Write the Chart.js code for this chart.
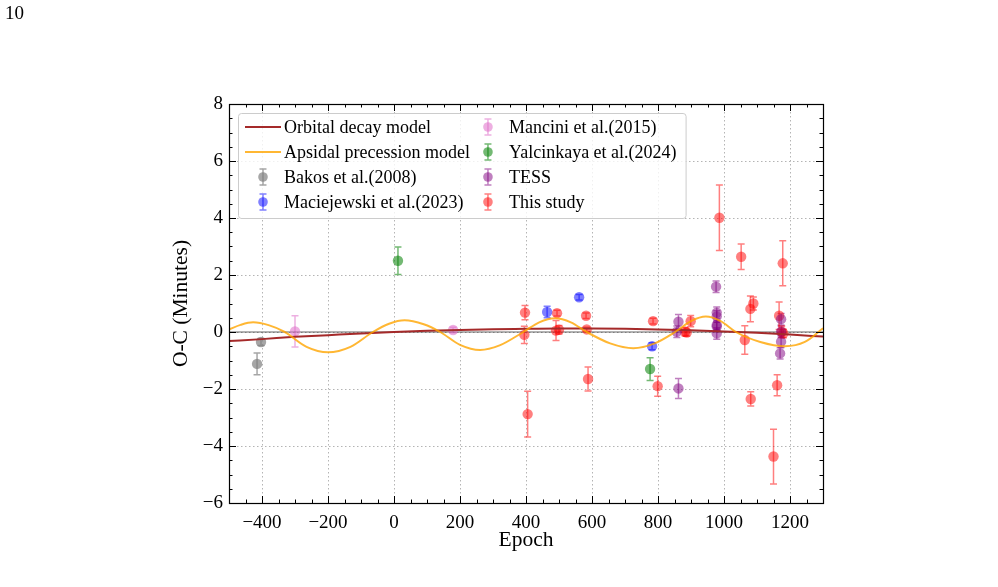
<!DOCTYPE html>
<html><head><meta charset="utf-8">
<script src="https://cdn.jsdelivr.net/npm/chart.js@4.4.0/dist/chart.umd.min.js"></script>
<style>
html,body{margin:0;padding:0;background:#fff;}
#wrap{position:relative;width:998px;height:587px;overflow:hidden;}
#pg{position:absolute;left:5px;top:2px;font:19px "Liberation Serif",serif;color:#000;}
canvas{position:absolute;left:0;top:0;}
</style></head><body>
<div id="wrap"><canvas id="c" width="998" height="587"></canvas><div id="pg">10</div></div>
<script>
// ---- axis ticks ----
const xTicks = [-400, -200, 0, 200, 400, 600, 800, 1000, 1200];
const yTicks = [-6, -4, -2, 0, 2, 4, 6, 8];

// ---- model curves ----
const decayE = [-500, -400, -300, -200, -100, 0, 100, 200, 300, 400, 500, 600, 700, 800, 900, 1000, 1100, 1200, 1300];
const decayY = [-0.32, -0.25, -0.17, -0.11, -0.05, 0.0, 0.04, 0.07, 0.10, 0.11, 0.12, 0.12, 0.11, 0.09, 0.06, 0.02, -0.03, -0.09, -0.16];

const apsE = [-500, -465, -427, -380, -331, -265, -200, -132, -64, -15, 32, 90, 140, 200, 261, 320, 392, 440, 488, 536, 584, 655, 725, 790, 852, 900, 945, 990, 1036, 1110, 1185, 1245, 1300];
const apsY = [0.09, 0.25, 0.34, 0.24, 0.0, -0.52, -0.71, -0.52, 0.0, 0.29, 0.41, 0.27, 0.0, -0.45, -0.63, -0.47, 0.0, 0.34, 0.48, 0.34, 0.0, -0.40, -0.57, -0.40, 0.0, 0.38, 0.54, 0.38, 0.0, -0.35, -0.50, -0.35, 0.13];

const zeroE = [-500, 1300];
const zeroY = [0, 0];

// ---- observations ----
const bakosE = [-415, -403];
const bakosY = [-1.12, -0.35];
const bakosErr = [0.38, 0.12];

const maciE = [464, 561, 782];
const maciY = [0.70, 1.22, -0.50];
const maciErr = [0.20, 0.10, 0.12];

const manciniE = [-300, 179];
const manciniY = [0.02, 0.07];
const manciniErr = [0.55, 0.10];

const yalE = [12, 776];
const yalY = [2.50, -1.30];
const yalErr = [0.48, 0.40];

const tessE = [862, 857, 862, 976, 978, 978, 978, 978, 978, 1173, 1173, 1173, 1170];
const tessY = [0.36, 0.01, -1.98, 1.59, 0.68, 0.55, 0.25, 0.19, -0.05, 0.45, 0.01, -0.34, -0.75];
const tessErr = [0.25, 0.20, 0.35, 0.20, 0.20, 0.20, 0.15, 0.15, 0.20, 0.20, 0.20, 0.20, 0.20];

const studyE = [397, 395, 405, 494, 491, 500, 582, 584, 588, 785, 799, 882, 887, 899, 986, 1052, 1063, 1080, 1089, 1081, 1150, 1161, 1167, 1178, 1175, 1180];
const studyY = [0.68, -0.10, -2.88, 0.66, 0.05, 0.08, 0.57, 0.09, -1.65, 0.38, -1.90, 0.01, -0.02, 0.38, 4.01, 2.64, -0.28, 0.81, 1.00, -2.35, -4.37, -1.87, 0.57, 2.41, 0.01, -0.05];
const studyErr = [0.25, 0.30, 0.80, 0.10, 0.35, 0.15, 0.10, 0.08, 0.42, 0.10, 0.35, 0.15, 0.12, 0.20, 1.15, 0.45, 0.50, 0.45, 0.23, 0.25, 0.96, 0.37, 0.48, 0.79, 0.20, 0.15];

// ---- styles ----
const FONT = '"Liberation Serif", "DejaVu Serif", serif';
const C_DECAY = '#a52a2a';
const C_APS = 'rgba(255,165,0,0.8)';
const C_GRAY = 'rgba(128,128,128,0.7)';
const C_BLUE = 'rgba(0,0,255,0.5)';
const C_PINK = 'rgba(222,110,200,0.55)';
const C_GREEN = 'rgba(0,128,0,0.55)';
const C_PURPLE = 'rgba(128,0,128,0.5)';
const C_RED = 'rgba(255,0,0,0.5)';

const pts = (xs, ys) => xs.map((x, i) => ({x: x, y: ys[i]}));

function obs(label, xs, ys, errs, color) {
  return {label, data: pts(xs, ys), errors: errs, backgroundColor: color, borderColor: color,
    pointRadius: 5.2, pointHoverRadius: 5.2, borderWidth: 0, showLine: false, order: 5, isObs: true};
}

const datasets = [
  {label: 'zero', data: pts(zeroE, zeroY), showLine: true, pointRadius: 0, borderColor: 'rgba(0,0,0,0.6)', borderWidth: 1.2, order: 9},
  obs('Bakos et al.(2008)', bakosE, bakosY, bakosErr, C_GRAY),
  obs('Maciejewski et al.(2023)', maciE, maciY, maciErr, C_BLUE),
  obs('Mancini et al.(2015)', manciniE, manciniY, manciniErr, C_PINK),
  obs('Yalcinkaya et al.(2024)', yalE, yalY, yalErr, C_GREEN),
  obs('TESS', tessE, tessY, tessErr, C_PURPLE),
  obs('This study', studyE, studyY, studyErr, C_RED),
  {label: 'Orbital decay model', data: pts(decayE, decayY), showLine: true, pointRadius: 0, borderColor: C_DECAY, borderWidth: 2, cubicInterpolationMode: 'monotone', order: 2},
  {label: 'Apsidal precession model', data: pts(apsE, apsY), showLine: true, pointRadius: 0, borderColor: C_APS, borderWidth: 2, cubicInterpolationMode: 'monotone', order: 1},
];

const legendCols = [
  [{t: 'line', c: C_DECAY, label: 'Orbital decay model'},
   {t: 'line', c: C_APS, label: 'Apsidal precession model'},
   {t: 'err', c: C_GRAY, label: 'Bakos et al.(2008)'},
   {t: 'err', c: C_BLUE, label: 'Maciejewski et al.(2023)'}],
  [{t: 'err', c: C_PINK, label: 'Mancini et al.(2015)'},
   {t: 'err', c: C_GREEN, label: 'Yalcinkaya et al.(2024)'},
   {t: 'err', c: C_PURPLE, label: 'TESS'},
   {t: 'err', c: C_RED, label: 'This study'}]
];

function drawErrMarker(ctx, x, y, c, half, cap, r) {
  ctx.strokeStyle = c; ctx.lineWidth = 1.5;
  ctx.beginPath(); ctx.moveTo(x, y - half); ctx.lineTo(x, y + half);
  ctx.moveTo(x - cap, y - half); ctx.lineTo(x + cap, y - half);
  ctx.moveTo(x - cap, y + half); ctx.lineTo(x + cap, y + half);
  ctx.stroke();
  ctx.fillStyle = c; ctx.beginPath(); ctx.arc(x, y, r, 0, Math.PI * 2); ctx.fill();
}

const deco = {
  id: 'deco',
  beforeDatasetsDraw(chart) {
    const {ctx, chartArea: a, scales: {x, y}} = chart;
    ctx.save();
    ctx.strokeStyle = 'rgba(180,180,180,1)'; ctx.lineWidth = 1; ctx.setLineDash([1.5, 2.5]);
    xTicks.forEach(v => { const px = Math.round(x.getPixelForValue(v)) + 0.5; ctx.beginPath(); ctx.moveTo(px, a.top); ctx.lineTo(px, a.bottom); ctx.stroke(); });
    yTicks.forEach(v => { const py = Math.round(y.getPixelForValue(v)) + 0.5; ctx.beginPath(); ctx.moveTo(a.left, py); ctx.lineTo(a.right, py); ctx.stroke(); });
    ctx.setLineDash([]);
    // error bars
    chart.data.datasets.forEach(ds => {
      if (!ds.isObs) return;
      ctx.strokeStyle = ds.borderColor; ctx.lineWidth = 1.5;
      ds.data.forEach((p, i) => {
        const px = x.getPixelForValue(p.x);
        const y1 = y.getPixelForValue(p.y - ds.errors[i]);
        const y2 = y.getPixelForValue(p.y + ds.errors[i]);
        ctx.beginPath();
        ctx.moveTo(px, y1); ctx.lineTo(px, y2);
        ctx.moveTo(px - 3.5, y1); ctx.lineTo(px + 3.5, y1);
        ctx.moveTo(px - 3.5, y2); ctx.lineTo(px + 3.5, y2);
        ctx.stroke();
      });
    });
    ctx.restore();
  },
  afterDatasetsDraw(chart) {
    const {ctx, chartArea: a, scales: {x, y}} = chart;
    ctx.save();
    ctx.strokeStyle = '#000'; ctx.lineWidth = 1;
    const xMin = x.min, xMax = x.max, yMin = y.min, yMax = y.max;
    ctx.beginPath();
    for (let v = xMin; v <= xMax + 1e-9; v += 50) {
      const major = xTicks.includes(v);
      const L = major ? 7 : 3.5;
      const px = Math.round(x.getPixelForValue(v)) + 0.5;
      ctx.moveTo(px, a.bottom); ctx.lineTo(px, a.bottom - L);
      ctx.moveTo(px, a.top); ctx.lineTo(px, a.top + L);
    }
    for (let v = yMin; v <= yMax + 1e-9; v += 0.5) {
      const major = yTicks.includes(Math.round(v * 100) / 100);
      const L = major ? 7 : 3.5;
      const py = Math.round(y.getPixelForValue(v)) + 0.5;
      ctx.moveTo(a.left, py); ctx.lineTo(a.left + L, py);
      ctx.moveTo(a.right, py); ctx.lineTo(a.right - L, py);
    }
    ctx.stroke();
    ctx.lineWidth = 1.2;
    ctx.strokeRect(Math.round(a.left) + 0.5, Math.round(a.top) + 0.5, Math.round(a.right - a.left), Math.round(a.bottom - a.top));
    ctx.restore();
  },
  afterDraw(chart) {
    const {ctx, chartArea: a} = chart;
    ctx.save();
    ctx.font = '18px ' + FONT;
    const left = a.left + 9, top = a.top + 9;
    const rowH = 25, firstRow = top + 14;
    const mk0 = left + 25, tx0 = left + 46;
    const w0 = Math.max(...legendCols[0].map(e => ctx.measureText(e.label).width));
    const mk1 = tx0 + w0 + 18, tx1 = mk1 + 21;
    const w1 = Math.max(...legendCols[1].map(e => ctx.measureText(e.label).width));
    const right = tx1 + w1 + 9, bottom = firstRow + 3 * rowH + 16;
    ctx.fillStyle = 'rgba(255,255,255,0.8)'; ctx.strokeStyle = '#cccccc'; ctx.lineWidth = 1;
    ctx.beginPath(); ctx.roundRect(left + 0.5, top + 0.5, right - left, bottom - top, 3); ctx.fill(); ctx.stroke();
    ctx.textBaseline = 'middle'; ctx.textAlign = 'left';
    legendCols.forEach((col, ci) => {
      col.forEach((e, ri) => {
        const yy = firstRow + ri * rowH;
        const mk = ci === 0 ? mk0 : mk1, tx = ci === 0 ? tx0 : tx1;
        if (e.t === 'line') {
          ctx.strokeStyle = e.c; ctx.lineWidth = 2;
          ctx.beginPath(); ctx.moveTo(mk - 18, yy); ctx.lineTo(mk + 18, yy); ctx.stroke();
        } else {
          drawErrMarker(ctx, mk, yy, e.c, 8, 3.5, 4.8);
        }
        ctx.fillStyle = '#000';
        ctx.fillText(e.label, tx, yy + 1);
      });
    });
    ctx.restore();
  }
};

const tickFmt = v => (v < 0 ? '\u2212' + Math.abs(v) : String(v));

new Chart(document.getElementById('c'), {
  type: 'scatter',
  data: {datasets},
  options: {
    responsive: false, animation: false, devicePixelRatio: 1,
    layout: {padding: {left: 0, top: 104, right: 175, bottom: 0}},
    plugins: {legend: {display: false}, tooltip: {enabled: false}},
    elements: {line: {tension: 0}},
    scales: {
      x: {
        type: 'linear', min: -500, max: 1300,
        afterBuildTicks: s => { s.ticks = xTicks.map(v => ({value: v})); },
        afterFit: s => { s.height = 84; },
        grid: {display: false, drawTicks: false}, border: {display: false},
        ticks: {color: '#000', font: {family: FONT, size: 19}, padding: 9, maxRotation: 0, callback: tickFmt},
        title: {display: true, text: 'Epoch', color: '#000', font: {family: FONT, size: 21.5}, padding: {top: 0, bottom: 34}}
      },
      y: {
        type: 'linear', min: -6, max: 8,
        afterBuildTicks: s => { s.ticks = yTicks.map(v => ({value: v})); },
        afterFit: s => { s.width = 229; },
        grid: {display: false, drawTicks: false}, border: {display: false},
        ticks: {color: '#000', font: {family: FONT, size: 19}, padding: 6, callback: tickFmt},
        title: {display: true, text: 'O-C (Minutes)', color: '#000', font: {family: FONT, size: 21.5}, padding: {top: 168, bottom: 0}}
      }
    }
  },
  plugins: [deco]
});
</script>
</body></html>
